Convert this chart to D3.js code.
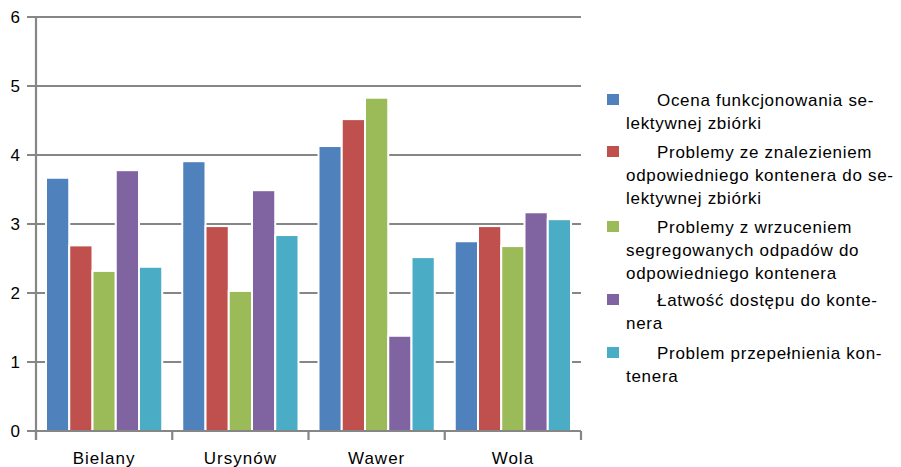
<!DOCTYPE html>
<html>
<head>
<meta charset="utf-8">
<script src="https://cdn.jsdelivr.net/npm/d3@7"></script>
<style>
  html, body { margin: 0; padding: 0; background: #fff; }
  svg { display: block; }
  text { font-family: "Liberation Sans", Arial, sans-serif; fill: #000; }
</style>
</head>
<body>
<svg id="chart" width="901" height="467"></svg>
<script>
// Districts along the x axis
const categories = ["Bielany", "Ursynów", "Wawer", "Wola"];

// Legend entries, pre-wrapped as in the original layout
const seriesNames = [
  ["Ocena funkcjonowania se-", "lektywnej zbiórki"],
  ["Problemy ze znalezieniem", "odpowiedniego kontenera do se-", "lektywnej zbiórki"],
  ["Problemy z wrzuceniem", "segregowanych odpadów do", "odpowiedniego kontenera"],
  ["Łatwość dostępu do konte-", "nera"],
  ["Problem przepełnienia kon-", "tenera"]
];

// Average ratings per district, one array per series
const ocena         = [3.67, 3.91, 4.13, 2.75];
const znalezienie   = [2.69, 2.97, 4.52, 2.97];
const wrzucenie     = [2.32, 2.03, 4.83, 2.68];
const dostep        = [3.78, 3.49, 1.38, 3.17];
const przepelnienie = [2.38, 2.84, 2.52, 3.07];
const seriesValues = [ocena, znalezienie, wrzucenie, dostep, przepelnienie];

const yTicks = [0, 1, 2, 3, 4, 5, 6];
const colors = ["#4F81BD", "#C0504D", "#9BBB59", "#8064A2", "#4BACC6"];

const svg = d3.select("#chart");
const plot = { left: 36, right: 581, top: 17, bottom: 431 };
const gridColor = "#868686";

const x0 = d3.scaleBand().domain(categories).range([plot.left, plot.right]).paddingInner(0).paddingOuter(0);
const x1 = d3.scaleBand().domain(d3.range(seriesValues.length))
  .range([0, x0.bandwidth()]).paddingOuter(0.43).paddingInner(0);
const y = d3.scaleLinear().domain([0, 6]).range([plot.bottom, plot.top]);

// Horizontal gridlines with the left tick stubs
svg.append("g").selectAll("line").data(yTicks).join("line")
  .attr("x1", plot.left - 9).attr("x2", plot.right)
  .attr("y1", d => y(d)).attr("y2", d => y(d))
  .attr("stroke", gridColor).attr("stroke-width", 2.2);

// Value axis labels
svg.append("g").selectAll("text").data(yTicks).join("text")
  .attr("x", 20).attr("y", d => y(d)).attr("dy", "0.36em")
  .attr("text-anchor", "end").style("font-size", "17px").text(d => d);

// Bars
const groups = svg.append("g").selectAll("g").data(categories).join("g")
  .attr("transform", c => `translate(${x0(c)},0)`);
groups.selectAll("rect")
  .data((c, ci) => seriesValues.map((vals, si) => ({ si, v: vals[ci] })))
  .join("rect")
  .attr("x", d => x1(d.si))
  .attr("width", x1.bandwidth())
  .attr("y", d => y(d.v))
  .attr("height", d => y(0) - y(d.v))
  .attr("fill", d => colors[d.si])
  .attr("stroke", "#fff").attr("stroke-width", 2);

// Axis lines drawn over the bars' bottoms
svg.append("line")
  .attr("x1", plot.left).attr("x2", plot.left)
  .attr("y1", plot.top).attr("y2", plot.bottom + 9)
  .attr("stroke", gridColor).attr("stroke-width", 2.2);
svg.append("line")
  .attr("x1", plot.left - 9).attr("x2", plot.right)
  .attr("y1", plot.bottom).attr("y2", plot.bottom)
  .attr("stroke", gridColor).attr("stroke-width", 2.2);

// Category separator ticks
const sepX = categories.map(c => x0(c)).concat([x0(categories[categories.length - 1]) + x0.bandwidth()]);
svg.append("g").selectAll("line").data(sepX).join("line")
  .attr("x1", d => d).attr("x2", d => d)
  .attr("y1", plot.bottom).attr("y2", plot.bottom + 9)
  .attr("stroke", gridColor).attr("stroke-width", 2.2);

// Category labels
svg.append("g").selectAll("text").data(categories).join("text")
  .attr("x", c => x0(c) + x0.bandwidth() / 2).attr("y", 458).attr("dy", "0.36em")
  .attr("text-anchor", "middle").style("font-size", "17px").style("letter-spacing", "1px")
  .text(c => c);

// Legend
const legendStarts = [100, 152, 227, 300, 353];
const lineGap = 23;
const legend = svg.append("g");
seriesNames.forEach((lines, i) => {
  const g = legend.append("g");
  g.append("rect").attr("x", 607).attr("y", legendStarts[i] - 6)
    .attr("width", 12).attr("height", 11).attr("fill", colors[i]);
  g.selectAll("text").data(lines).join("text")
    .attr("x", (d, k) => k === 0 ? 657 : 626)
    .attr("y", (d, k) => legendStarts[i] + k * lineGap)
    .attr("dy", "0.36em")
    .style("font-size", "17px").style("letter-spacing", "0.7px")
    .text(d => d);
});
</script>
</body>
</html>
